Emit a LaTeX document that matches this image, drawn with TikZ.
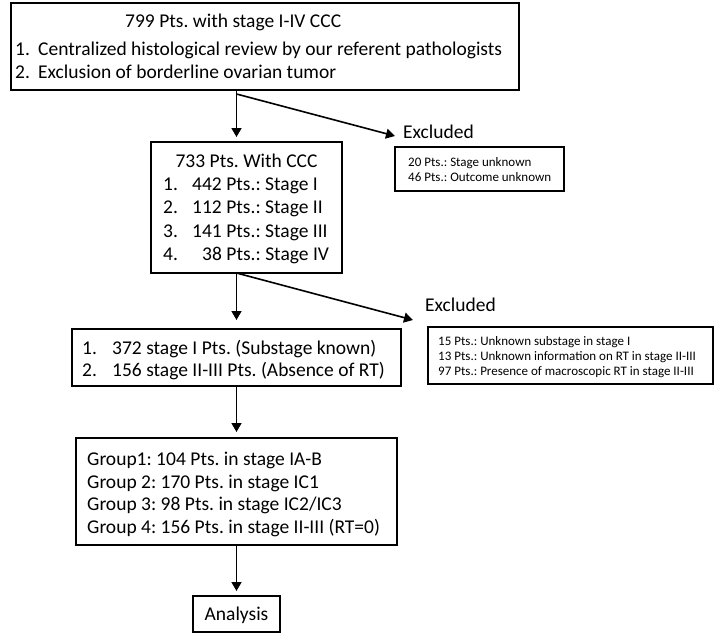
\documentclass[tikz,border=0pt]{standalone}
\usepackage{fontspec}
\setmainfont{Carlito}
\usetikzlibrary{arrows.meta}
\begin{document}
\frenchspacing
\begin{tikzpicture}[x=1pt,y=-1pt,
  box/.style={draw=black, line width=1.2pt, rectangle, inner sep=0pt, outer sep=0pt, anchor=north west},
  big/.style={inner sep=0pt, anchor=base west, font=\fontsize{19.5pt}{23pt}\selectfont},
  bigc/.style={inner sep=0pt, anchor=base, font=\fontsize{19.5pt}{23pt}\selectfont},
  small/.style={inner sep=0pt, anchor=base west, font=\fontsize{13pt}{15pt}\selectfont},
  arr/.style={line width=1.6pt, -{Triangle[width=10pt,length=9pt]}},
]
\useasboundingbox (0,0) rectangle (715,634);
\fill[white] (0,0) rectangle (715,634);
\coordinate (ax) at (236.5,0);

% boxes
\node[box, minimum width=508pt, minimum height=87pt] (b1) at (11,3) {};
\node[box, minimum width=191pt, minimum height=131pt] (b2) at (151,142) {};
\node[box, minimum width=329pt, minimum height=57pt] (b3) at (72,329) {};
\node[box, minimum width=321pt, minimum height=107pt] (b4) at (76,438) {};
\node[box, minimum width=87pt, minimum height=36pt] (b5) at (193,596) {};
\node[box, minimum width=169pt, minimum height=44pt] (e1) at (395,147) {};
\node[box, minimum width=285pt, minimum height=57pt] (e2) at (428,327) {};

% box 1 text
\node[big] (t1a) at (125,28) {799 Pts. with stage I-IV CCC};
\node[big] (t1b) at (15,55.5) {1.};
\node[big] (t1c) at (38,55.5) {Centralized histological review by our referent pathologists};
\node[big] (t1d) at (15,78) {2.};
\node[big] (t1e) at (38,78) {Exclusion of borderline ovarian tumor};

% box 2 text
\node[bigc] (t2a) at (246.5,167.7) {733 Pts. With CCC};
\node[big] (t2b) at (163,190) {1.};
\node[big] (t2c) at (192,190) {442 Pts.: Stage I};
\node[big] (t2d) at (163,213.7) {2.};
\node[big] (t2e) at (192,213.7) {112 Pts.: Stage II};
\node[big] (t2f) at (163,237) {3.};
\node[big] (t2g) at (192,237) {141 Pts.: Stage III};
\node[big] (t2h) at (163,260) {4.};
\node[big] (t2i) at (202,260) {38 Pts.: Stage IV};

% box 3 text
\node[big] (t3a) at (82,354) {1.};
\node[big] (t3b) at (112,354) {372 stage I Pts. (Substage known)};
\node[big] (t3c) at (82,376) {2.};
\node[big] (t3d) at (112,376) {156 stage II-III Pts. (Absence of RT)};

% box 4 text
\node[big] (t4a) at (87,465) {Group1: 104 Pts. in stage IA-B};
\node[big] (t4b) at (87,488) {Group 2: 170 Pts. in stage IC1};
\node[big] (t4c) at (87,510.5) {Group 3: 98 Pts. in stage IC2/IC3};
\node[big] (t4d) at (87,533) {Group 4: 156 Pts. in stage II-III (RT=0)};

% analysis
\node[bigc] (t5) at (236.5,620) {Analysis};

% excluded 1
\node[big] (x1) at (403,138.3) {Excluded};
\node[small] (x1a) at (408,166) {20 Pts.: Stage unknown};
\node[small] (x1b) at (408,181) {46 Pts.: Outcome unknown};

% excluded 2
\node[big] (x2) at (425,311.7) {Excluded};
\node[small] (x2a) at (438,345) {15 Pts.: Unknown substage in stage I};
\node[small] (x2b) at (438,360) {13 Pts.: Unknown information on RT in stage II-III};
\node[small] (x2c) at (438,375) {97 Pts.: Presence of macroscopic RT in stage II-III};

% connectors
\coordinate (j1) at (236.5,94);
\coordinate (k1) at (395,136);
\coordinate (k2) at (413,320);
\draw[arr, shorten >=5pt] (b1.south -| ax) -- (b2.north -| ax);
\draw[arr] (j1) -- (k1);
\draw[arr, shorten >=9pt] (b2.south -| ax) -- (b3.north -| ax);
\draw[arr] (b2.south -| ax) -- (k2);
\draw[arr, shorten >=6pt] (b3.south -| ax) -- (b4.north -| ax);
\draw[arr, shorten >=5pt] (b4.south -| ax) -- (b5.north -| ax);
\end{tikzpicture}
\end{document}
